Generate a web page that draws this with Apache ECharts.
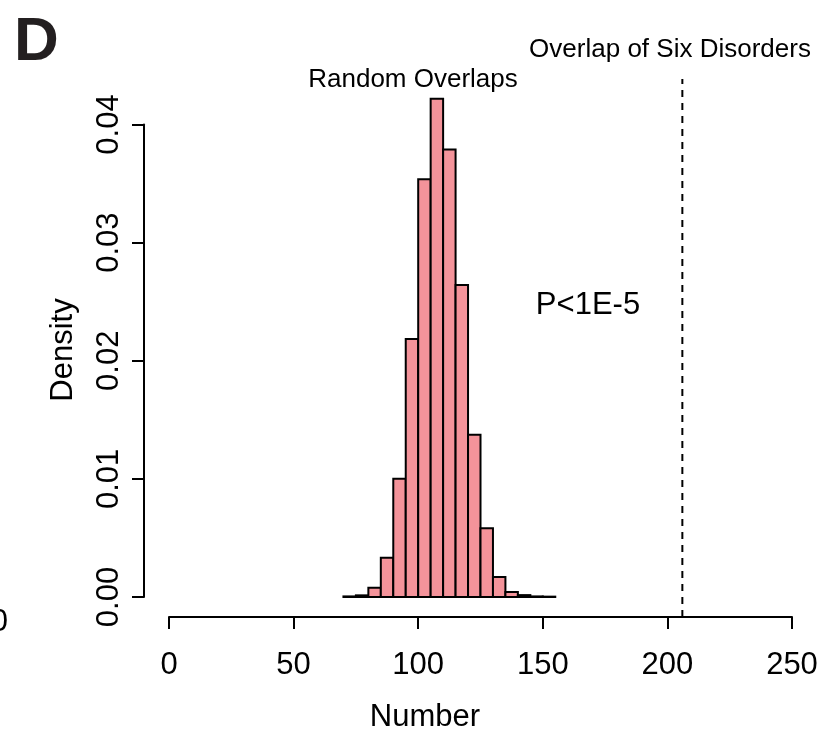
<!DOCTYPE html>
<html>
<head>
<meta charset="utf-8">
<title>Random overlaps histogram</title>
<script src="https://cdn.jsdelivr.net/npm/echarts@6/dist/echarts.min.js"></script>
<style>
  html, body { margin: 0; padding: 0; background: #ffffff; }
  #chart { width: 821px; height: 735px; }
</style>
</head>
<body>
<div id="chart"></div>
<script>
// Histogram bins (width 5) of the random overlap counts, as densities
const binStarts = [70, 75, 80, 85, 90, 95, 100, 105, 110, 115, 120, 125, 130, 135, 140, 145, 150];
const binWidth = 5;
const densities = [0.00005, 0.00014, 0.00078, 0.00333, 0.01002, 0.02184, 0.03537, 0.04217,
                   0.03788, 0.02641, 0.01374, 0.00582, 0.00169, 0.00043, 0.00016, 0.00005, 0.00003];

// Observed overlap of the six disorders
const observedOverlap = 206;

// Axis ticks
const xTicks = [0, 50, 100, 150, 200, 250];
const yTicks = [0.00, 0.01, 0.02, 0.03, 0.04];

const FONT = '"Liberation Sans", Arial, Helvetica, sans-serif';
const BAR_FILL = '#F4939A';

// Vertical reference line spans the plotting range padded by 4% like base graphics
const yLimMax = Math.max.apply(null, densities);
const yPad = 0.04 * yLimMax;
const refLine = [[observedOverlap, -yPad], [observedOverlap, yLimMax + yPad]];

const histData = binStarts.map((s, i) => [s, s + binWidth, densities[i]]);

const chart = echarts.init(document.getElementById('chart'), null, { renderer: 'canvas' });

chart.setOption({
  backgroundColor: '#ffffff',
  animation: false,
  grid: { left: 169, right: 29, top: 124.5, bottom: 138, containLabel: false },
  xAxis: {
    type: 'value',
    min: xTicks[0],
    max: xTicks[xTicks.length - 1],
    interval: 50,
    offset: 20,
    axisLine: { show: true, onZero: false, lineStyle: { color: '#000', width: 2 } },
    axisTick: { show: true, length: 12, lineStyle: { color: '#000', width: 2 } },
    axisLabel: { color: '#000', fontFamily: FONT, fontSize: 31, margin: 33 },
    splitLine: { show: false }
  },
  yAxis: {
    type: 'value',
    min: yTicks[0],
    max: yTicks[yTicks.length - 1],
    interval: 0.01,
    offset: 25,
    axisLine: { show: true, onZero: false, lineStyle: { color: '#000', width: 2 } },
    axisTick: { show: true, length: 12, lineStyle: { color: '#000', width: 2 } },
    axisLabel: {
      color: '#000', fontFamily: FONT, fontSize: 31, margin: 19, rotate: 90,
      formatter: v => v.toFixed(2)
    },
    splitLine: { show: false }
  },
  series: [
    {
      type: 'custom',
      clip: false,
      data: histData,
      encode: { x: [0, 1], y: 2 },
      renderItem: function (params, api) {
        const topLeft = api.coord([api.value(0), api.value(2)]);
        const bottomRight = api.coord([api.value(1), 0]);
        return {
          type: 'rect',
          shape: {
            x: topLeft[0],
            y: topLeft[1],
            width: bottomRight[0] - topLeft[0],
            height: bottomRight[1] - topLeft[1]
          },
          style: { fill: BAR_FILL, stroke: '#000', lineWidth: 2 }
        };
      }
    },
    {
      type: 'line',
      clip: false,
      data: refLine,
      symbol: 'none',
      silent: true,
      lineStyle: { color: '#000', width: 2, type: [7, 6] }
    }
  ],
  graphic: [
    {
      type: 'text', left: 14, top: 12,
      style: { text: 'D', font: 'bold 62px ' + FONT, fill: '#231f20' }
    },
    {
      type: 'text', x: 413, y: 80,
      style: { text: 'Random Overlaps', font: '26px ' + FONT, fill: '#000', align: 'center', verticalAlign: 'middle' }
    },
    {
      type: 'text', x: 670, y: 50,
      style: { text: 'Overlap of Six Disorders', font: '26px ' + FONT, fill: '#000', align: 'center', verticalAlign: 'middle' }
    },
    {
      type: 'text', x: 588, y: 305,
      style: { text: 'P<1E-5', font: '31px ' + FONT, fill: '#000', align: 'center', verticalAlign: 'middle' }
    },
    {
      type: 'text', x: 63, y: 350, rotation: Math.PI / 2,
      style: { text: 'Density', font: '31px ' + FONT, fill: '#000', align: 'center', verticalAlign: 'middle' }
    },
    {
      type: 'text', x: 425, y: 717,
      style: { text: 'Number', font: '31px ' + FONT, fill: '#000', align: 'center', verticalAlign: 'middle' }
    },
    {
      type: 'text', x: 8, y: 622,
      style: { text: '0', font: '31px ' + FONT, fill: '#000', align: 'right', verticalAlign: 'middle' }
    }
  ]
});
</script>
</body>
</html>
